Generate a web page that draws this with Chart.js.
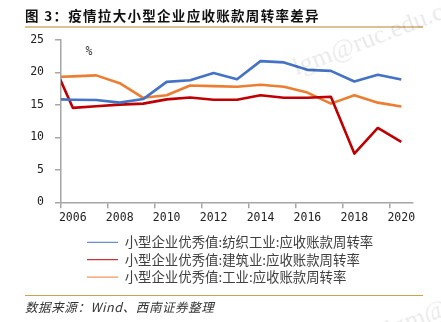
<!DOCTYPE html>
<html>
<head>
<meta charset="utf-8">
<script src="https://cdn.jsdelivr.net/npm/chart.js@4/dist/chart.umd.min.js"></script>
<style>
  html, body { margin: 0; padding: 0; background: #fff; }
  #wrap { position: relative; width: 441px; height: 322px; overflow: hidden; }
  #c { position: absolute; left: 0; top: 0; }
  .title { position: absolute; left: 25px; top: 5px; font-family: "Noto Sans CJK SC", sans-serif; font-weight: bold; font-size: 13.5px; letter-spacing: 1.3px; color: #111; white-space: nowrap; line-height: 20px; }
  .rule-top { position: absolute; left: 25px; top: 26px; width: 398px; height: 1.5px; background: #dcc193; }
  .rule-bot { position: absolute; left: 25px; top: 294.5px; width: 398px; height: 1.5px; background: #cf9f55; }
  .source { position: absolute; left: 25px; top: 298px; font-family: "Noto Sans CJK SC", sans-serif; font-style: italic; font-size: 12.5px; letter-spacing: 0.6px; color: #333; white-space: nowrap; line-height: 18px; }
  .wm { position: absolute; font-family: "Liberation Serif", serif; font-size: 26px; color: rgba(0,0,0,0.09); white-space: nowrap; transform-origin: 0 0; transform: rotate(-21deg); pointer-events: none; }
</style>
</head>
<body>
<div id="wrap">
  <canvas id="c" width="441" height="322"></canvas>
  <div class="title">图 3：疫情拉大小型企业应收账款周转率差异</div>
  <div class="rule-top"></div>
  <div class="rule-bot"></div>
  <div class="source">数据来源：Wind、西南证券整理</div>
  <div class="wm" style="left:288px; top:54px;">lgm@ruc.edu.cn</div>
  <div class="wm" style="left:381px; top:316px;">lgm@ruc.edu.cn</div>
</div>
<script>
// Years (2005 lies just left of the visible axis; only its connecting segment shows)
const years = ['2005','2006','2007','2008','2009','2010','2011','2012','2013','2014','2015','2016','2017','2018','2019','2020'];
const textileValues = [15.9, 15.8, 15.75, 15.35, 15.9, 18.55, 18.8, 19.9, 18.95, 21.75, 21.55, 20.4, 20.25, 18.6, 19.65, 18.9];
const constructionValues = [22.7, 14.55, 14.8, 15.05, 15.2, 15.85, 16.15, 15.8, 15.8, 16.5, 16.1, 16.1, 16.25, 7.5, 11.45, 9.3];
const industryValues = [19.3, 19.4, 19.55, 18.35, 16.1, 16.5, 18.0, 17.9, 17.8, 18.1, 17.8, 16.9, 15.2, 16.5, 15.35, 14.75];
const seriesNames = ['小型企业优秀值:纺织工业:应收账款周转率', '小型企业优秀值:建筑业:应收账款周转率', '小型企业优秀值:工业:应收账款周转率'];
const yTicks = [0, 5, 10, 15, 20, 25];
const unitLabel = '%';

const axisColor = '#a6a6a6';
const monoFont = { family: '"DejaVu Sans Mono", monospace', size: 11.5 };

const percentPlugin = {
  id: 'percentLabel',
  afterDraw(chart) {
    const { ctx, chartArea } = chart;
    ctx.save();
    ctx.font = '11.5px "DejaVu Sans Mono", monospace';
    ctx.fillStyle = '#333';
    ctx.textAlign = 'center';
    ctx.textBaseline = 'middle';
    ctx.fillText(unitLabel, chartArea.left + 28, chartArea.top + 12.5);
    ctx.restore();
  }
};

const legendPlacePlugin = {
  id: 'legendPlace',
  afterLayout(chart) {
    const lg = chart.legend;
    if (!lg) return;
    const dy = 3.5;
    lg.left = 83;
    lg.top += dy;
    lg.bottom += dy;
  }
};

new Chart(document.getElementById('c'), {
  type: 'line',
  data: {
    labels: years,
    datasets: [
      { label: seriesNames[0], data: textileValues, borderColor: '#4472c4', backgroundColor: '#4472c4' },
      { label: seriesNames[1], data: constructionValues, borderColor: '#c00000', backgroundColor: '#c00000' },
      { label: seriesNames[2], data: industryValues, borderColor: '#ed7d31', backgroundColor: '#ed7d31' }
    ]
  },
  options: {
    responsive: false,
    animation: false,
    devicePixelRatio: 1,
    layout: { padding: { top: 40, left: 19.2, right: 28, bottom: 31.7 } },
    elements: {
      line: { borderWidth: 2.6, tension: 0, borderJoinStyle: 'round', borderCapStyle: 'butt' },
      point: { radius: 0, hoverRadius: 0 }
    },
    scales: {
      x: {
        type: 'category',
        min: '2006',
        max: '2020',
        offset: true,
        border: { display: true, color: axisColor, width: 1.5 },
        grid: {
          offset: true,
          drawOnChartArea: false,
          drawTicks: true,
          tickLength: 6,
          lineWidth: 1.5,
          color: (ctx) => (ctx.index !== undefined && ctx.index % 2 === 0) ? axisColor : 'rgba(0,0,0,0)'
        },
        ticks: {
          autoSkip: false,
          maxRotation: 0,
          padding: 3,
          color: '#222',
          font: monoFont,
          callback: function (val) {
            const y = parseInt(this.getLabelForValue(val), 10);
            return (y % 2 === 0) ? String(y) : '';
          }
        }
      },
      y: {
        min: yTicks[0],
        max: yTicks[yTicks.length - 1],
        border: { display: true, color: axisColor, width: 1.5 },
        grid: { drawOnChartArea: false, drawTicks: true, tickLength: 6, lineWidth: 1.5, color: axisColor },
        afterBuildTicks: (scale) => { scale.ticks = yTicks.map(v => ({ value: v })); },
        ticks: { padding: 11, color: '#222', font: monoFont }
      }
    },
    plugins: {
      tooltip: { enabled: false },
      legend: {
        display: true,
        position: 'bottom',
        align: 'start',
        labels: {
          usePointStyle: true,
          pointStyle: 'line',
          pointStyleWidth: 31,
          padding: 4,
          color: '#404040',
          font: { family: '"Noto Sans CJK SC", sans-serif', size: 13.4 }
        }
      }
    }
  },
  plugins: [percentPlugin, legendPlacePlugin]
});
</script>
</body>
</html>
